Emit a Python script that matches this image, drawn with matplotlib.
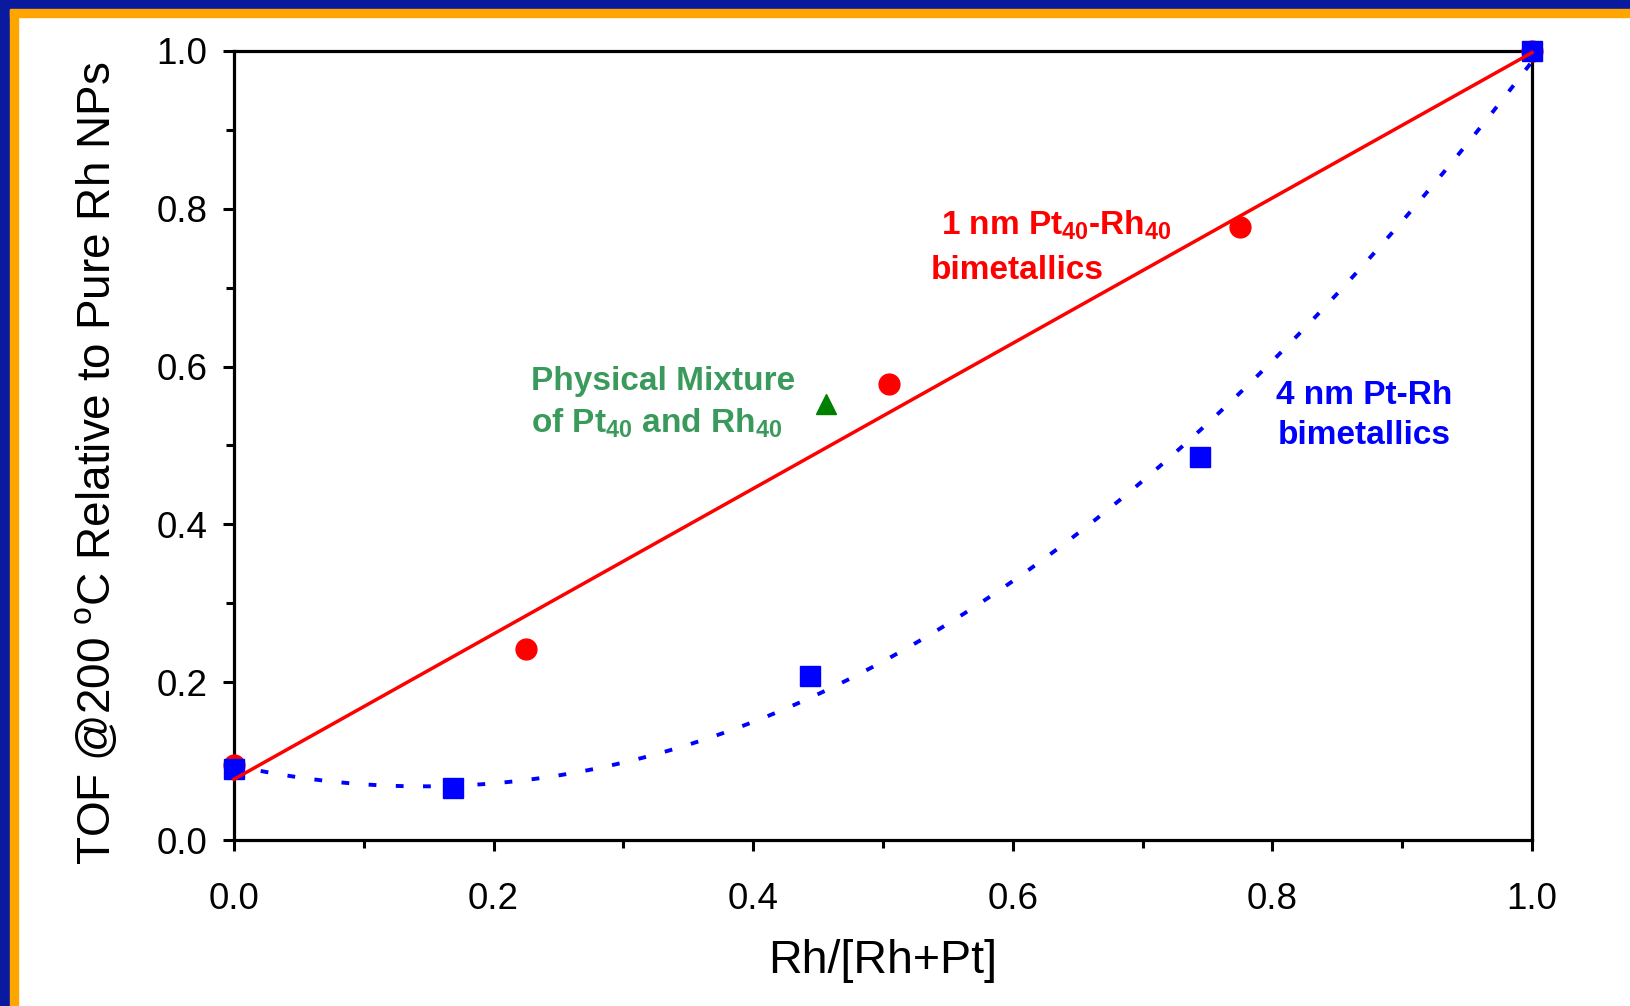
import numpy as np
import matplotlib
matplotlib.use("Agg")
import matplotlib.pyplot as plt
from matplotlib.patches import Rectangle

plt.rcParams['font.family'] = ['Liberation Sans', 'DejaVu Sans']
plt.rcParams['mathtext.fontset'] = 'custom'
plt.rcParams['mathtext.rm'] = 'Liberation Sans'
plt.rcParams['mathtext.default'] = 'regular'

# Measured relative TOF values
pt40_rh40_x = [0.0, 0.225, 0.505, 0.775, 1.0]
pt40_rh40_y = [0.095, 0.242, 0.578, 0.777, 1.0]

ptrh_4nm_x = [0.0, 0.169, 0.444, 0.744, 1.0]
ptrh_4nm_y = [0.090, 0.066, 0.208, 0.485, 1.0]

mixture_x = [0.456]
mixture_y = [0.553]

x_ticks = [0.0, 0.2, 0.4, 0.6, 0.8, 1.0]
y_ticks = [0.0, 0.2, 0.4, 0.6, 0.8, 1.0]

fig = plt.figure(figsize=(16.31, 10.06), dpi=100)

# slide frame: navy band with an orange rule, along the top and left edges
W, H = 1631, 1006
navy, orange = '#0a1a9e', '#ffa500'
fig.patches.append(Rectangle((0, 1 - 9.5 / H), 1, 9.5 / H, transform=fig.transFigure,
                             color=navy, zorder=0))
fig.patches.append(Rectangle((0, 0), 10.5 / W, 1, transform=fig.transFigure,
                             color=navy, zorder=0))
fig.patches.append(Rectangle((10.5 / W, 1 - 17 / H), 1, 7.5 / H, transform=fig.transFigure,
                             color=orange, zorder=0))
fig.patches.append(Rectangle((10.5 / W, 0), 7.5 / W, 1 - 9.5 / H, transform=fig.transFigure,
                             color=orange, zorder=0))

ax = fig.add_axes([234 / W, 1 - 840 / H, 1298 / W, 789 / H])

# trend lines fitted to each series
xx = np.linspace(0, 1, 200)
lin = np.polyfit(pt40_rh40_x, pt40_rh40_y, 1)
quad = np.polyfit(ptrh_4nm_x, ptrh_4nm_y, 2)

ax.plot(pt40_rh40_x, pt40_rh40_y, 'o', color='#ff0000', ms=15, mec='#ff0000',
        zorder=3, clip_on=False)
ax.plot(ptrh_4nm_x, ptrh_4nm_y, 's', color='#0000ff', ms=14.5, mec='#0000ff',
        zorder=4, clip_on=False)
ax.plot(mixture_x, mixture_y, '^', color='#008000', ms=14, mec='#008000',
        zorder=4, clip_on=False)

ax.plot(xx, np.polyval(lin, xx), color='#ff0000', lw=2.5, zorder=5, clip_on=False)
ax.plot(xx, np.polyval(quad, xx), color='#0000ff', lw=2.8, zorder=5,
        linestyle=(0, (2.0, 5.0)), clip_on=False)

ax.set_xlim(0, 1)
ax.set_ylim(0, 1)
ax.set_xticks(x_ticks)
ax.set_yticks(y_ticks)
ax.set_xticklabels([f'{v:.1f}' for v in x_ticks])
ax.set_yticklabels([f'{v:.1f}' for v in y_ticks])
ax.set_xticks(np.arange(0.1, 1.0, 0.2), minor=True)
ax.set_yticks(np.arange(0.1, 1.0, 0.2), minor=True)

for s in ax.spines.values():
    s.set_linewidth(2.3)
ax.tick_params(which='major', direction='out', length=8, width=2.2, labelsize=26.5)
ax.tick_params(which='minor', direction='out', length=6, width=2.2)
ax.tick_params(axis='x', which='major', pad=22)
ax.tick_params(axis='y', which='major', pad=11)

ax.set_xlabel('Rh/[Rh+Pt]', fontsize=33.5, labelpad=16)
ax.set_ylabel(r'TOF @200 $^{o}$C Relative to Pure Rh NPs', fontsize=33)
ax.yaxis.set_label_coords(-0.088, 0.477)

red, green, blue = '#ff0000', '#3a9a5c', '#0000ff'
fs = 24
ax.text(0.545, 0.767, r'1 nm Pt$_{40}$-Rh$_{40}$', color=red, fontsize=fs,
        fontweight='bold', ha='left', va='baseline')
ax.text(0.537, 0.711, 'bimetallics', color=red, fontsize=fs,
        fontweight='bold', ha='left', va='baseline')
ax.text(0.229, 0.570, 'Physical Mixture', color=green, fontsize=fs,
        fontweight='bold', ha='left', va='baseline')
ax.text(0.229, 0.516, r'of Pt$_{40}$ and Rh$_{40}$', color=green, fontsize=fs,
        fontweight='bold', ha='left', va='baseline')
ax.text(0.803, 0.552, '4 nm Pt-Rh', color=blue, fontsize=fs,
        fontweight='bold', ha='left', va='baseline')
ax.text(0.804, 0.502, 'bimetallics', color=blue, fontsize=fs,
        fontweight='bold', ha='left', va='baseline')

fig.savefig('out.png', dpi=100)
